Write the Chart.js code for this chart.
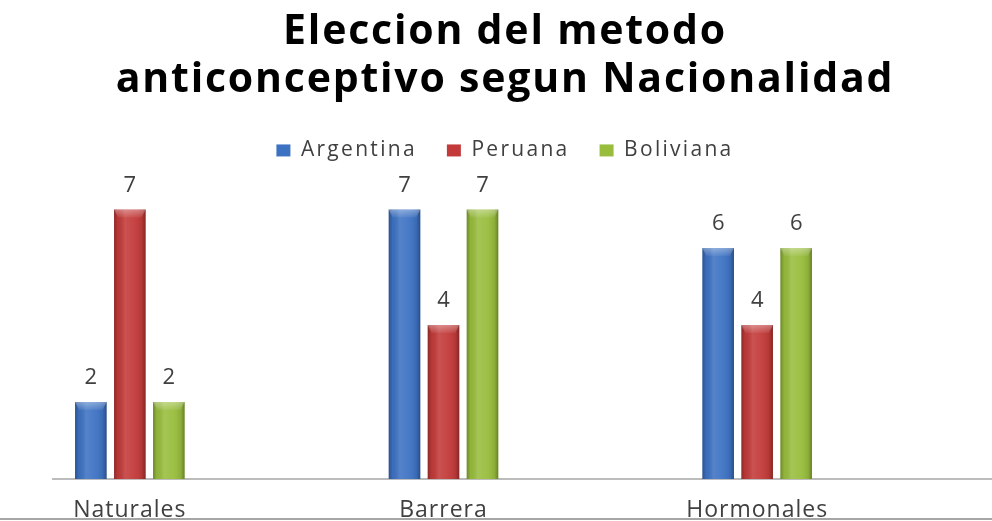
<!DOCTYPE html>
<html>
<head>
<meta charset="utf-8">
<script src="https://cdn.jsdelivr.net/npm/chart.js@4/dist/chart.umd.min.js"></script>
<style>
  html, body { margin: 0; padding: 0; background: #ffffff; overflow: hidden; }
  body { width: 992px; height: 521px; position: relative; }
  #wrap { position: absolute; left: -27px; top: 0; width: 1064px; height: 521px; }
  #bottomLine { position: absolute; left: 0; top: 518px; width: 992px; height: 2px; background: #a6a6a6; z-index: 2; }
</style>
</head>
<body>
<div id="wrap"><canvas id="c"></canvas></div>
<div id="bottomLine"></div>
<script>
const titleLines = ["Eleccion del metodo", "anticonceptivo segun Nacionalidad"];
const categories = ["Naturales", "Barrera", "Hormonales"];
const seriesNames = ["Argentina", "Peruana", "Boliviana"];
const argentina = [2, 7, 6];
const peruana = [7, 4, 4];
const boliviana = [2, 7, 6];
const seriesColors = ["#3d72c3", "#c23a39", "#98bd3d"];

const FONT = "'Open Sans', 'Liberation Sans', sans-serif";
const TEXT = "#404040";

function withSpacing(obj, method, spacing) {
  const orig = obj[method].bind(obj);
  obj[method] = function (...args) {
    const c = this.ctx;
    const prev = c.letterSpacing;
    c.letterSpacing = spacing;
    const res = orig(...args);
    c.letterSpacing = prev;
    return res;
  };
}

const spacingPlugin = {
  id: 'spacing',
  afterInit(chart) {
    if (chart.titleBlock) withSpacing(chart.titleBlock, 'draw', '1.8px');
    if (chart.legend) {
      withSpacing(chart.legend, 'fit', '2.3px');
      withSpacing(chart.legend, 'draw', '2.3px');
    }
  },
  afterLayout(chart) {
    const sx = chart.scales.x;
    if (sx && !sx._lsPatched) {
      withSpacing(sx, 'drawLabels', '1px');
      sx._lsPatched = true;
    }
  }
};

const axisLinePlugin = {
  id: 'axisLine',
  beforeDatasetsDraw(chart) {
    const ctx = chart.ctx;
    const y = chart.scales.x.top;
    ctx.save();
    ctx.strokeStyle = '#a6a6a6';
    ctx.lineWidth = 1.5;
    ctx.beginPath();
    ctx.moveTo(79, y);
    ctx.lineTo(chart.width, y);
    ctx.stroke();
    ctx.restore();
  }
};

const bevelPlugin = {
  id: 'bevel',
  afterDatasetsDraw(chart) {
    const ctx = chart.ctx;
    ctx.save();
    chart.data.datasets.forEach((ds, di) => {
      const meta = chart.getDatasetMeta(di);
      meta.data.forEach((bar, i) => {
        const p = bar.getProps(['x', 'y', 'base', 'width'], true);
        const l = p.x - p.width / 2, r = p.x + p.width / 2;
        const top = Math.min(p.y, p.base), bot = Math.max(p.y, p.base);
        const g = ctx.createLinearGradient(l, 0, r, 0);
        g.addColorStop(0, 'rgba(0,0,0,0.28)');
        g.addColorStop(0.12, 'rgba(0,0,0,0.05)');
        g.addColorStop(0.35, 'rgba(255,255,255,0.12)');
        g.addColorStop(0.65, 'rgba(255,255,255,0.05)');
        g.addColorStop(0.88, 'rgba(0,0,0,0.08)');
        g.addColorStop(1, 'rgba(0,0,0,0.32)');
        ctx.fillStyle = g;
        ctx.fillRect(l, top, r - l, bot - top);
        const bh = 8;
        const tg = ctx.createLinearGradient(0, top, 0, top + bh);
        tg.addColorStop(0, 'rgba(255,255,255,0.35)');
        tg.addColorStop(1, 'rgba(255,255,255,0.05)');
        ctx.fillStyle = tg;
        ctx.beginPath();
        ctx.moveTo(l, top);
        ctx.lineTo(r, top);
        ctx.lineTo(r - 4, top + bh);
        ctx.lineTo(l + 4, top + bh);
        ctx.closePath();
        ctx.fill();
        ctx.fillStyle = TEXT;
        ctx.font = "22px " + FONT;
        ctx.textAlign = 'center';
        ctx.textBaseline = 'middle';
        ctx.fillText(String(ds.data[i]), p.x, top - 24);
      });
    });
    ctx.restore();
  }
};

const seriesData = [argentina, peruana, boliviana];
new Chart(document.getElementById('c'), {
  type: 'bar',
  data: {
    labels: categories,
    datasets: seriesNames.map((n, k) => ({
      label: n,
      data: seriesData[k],
      backgroundColor: seriesColors[k],
      borderWidth: 0,
      categoryPercentage: 0.373,
      barPercentage: 0.81
    }))
  },
  options: {
    responsive: true,
    maintainAspectRatio: false,
    animation: false,
    layout: { padding: 0 },
    plugins: {
      title: {
        display: true,
        text: titleLines,
        color: '#000000',
        font: { family: FONT, size: 41, weight: 'bold', lineHeight: 1.17 },
        padding: { top: 8, bottom: 6 }
      },
      legend: {
        display: true,
        position: 'top',
        labels: {
          color: TEXT,
          font: { family: FONT, size: 21 },
          boxWidth: 14,
          boxHeight: 12,
          padding: 30,
          generateLabels(chart) {
            return chart.data.datasets.map((d, k) => ({
              text: d.label,
              fillStyle: seriesColors[k],
              strokeStyle: seriesColors[k],
              lineWidth: 0,
              datasetIndex: k,
              fontColor: TEXT
            }));
          }
        }
      },
      tooltip: { enabled: false }
    },
    scales: {
      x: {
        grid: { display: false, drawTicks: false },
        border: { display: false },
        ticks: { color: TEXT, font: { family: FONT, size: 23 }, padding: 18 },
        afterFit(s) { s.height = 42; }
      },
      y: {
        display: false,
        min: 0,
        max: 8
      },
      yr: {
        type: 'linear',
        position: 'right',
        display: true,
        grid: { display: false },
        border: { display: false },
        ticks: { display: false },
        afterFit(s) { s.width = 123; }
      }
    }
  },
  plugins: [spacingPlugin, axisLinePlugin, bevelPlugin]
});
</script>
</body>
</html>
